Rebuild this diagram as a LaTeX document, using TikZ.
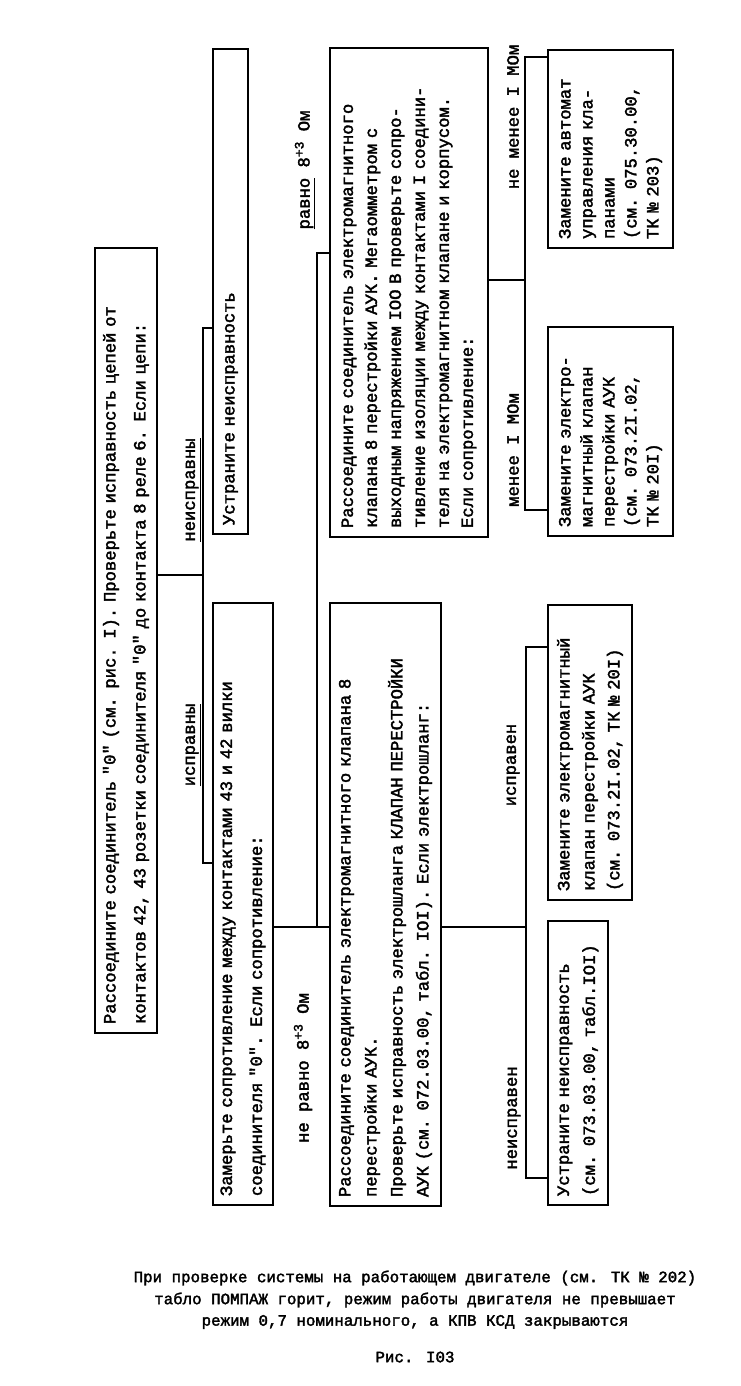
\documentclass[tikz,border=0pt]{standalone}
\usepackage{fontspec}
\newfontfamily\twfont{Liberation Mono}[FakeBold=2.2]
\newcommand\twsize[1]{\twfont\fontsize{17.2pt}{#1pt}\selectfont}
\newcommand\capsize{\twfont\fontsize{15.8pt}{20pt}\selectfont}
\newcommand\supthree{\raisebox{6pt}{\twfont\fontsize{13pt}{13pt}\selectfont +3}}
\begin{document}
\begin{tikzpicture}[x=1pt,y=1pt,
  box/.style={draw, line width=2.6pt, rotate=90, inner xsep=9pt, inner ysep=3pt, align=left, font=\twsize{#1}},
  lbl/.style={rotate=90, inner sep=1pt, font=\twsize{20}},
  captxt/.style={inner sep=0pt, font=\capsize},
  conn/.style={line width=1.4pt}]
\useasboundingbox (0,0) rectangle (740,-1386);

% boxes
\node[box=30, minimum width=785pt, minimum height=62pt, text width=767pt] (A) at (126,-640.5)
  {\mbox{Рассоедините соединитель "0" (см. рис. I). Проверьте исправность цепей от}\\
   \mbox{контактов 42, 43 розетки соединителя "0" до контакта 8 реле 6. Если цепи:}};
\node[box=24, minimum width=485pt, minimum height=35pt, text width=467pt] (B2) at (230.5,-291.5)
  {\mbox{Устраните неисправность}};
\node[box=30, minimum width=602pt, minimum height=60pt, text width=584pt] (B3) at (243,-904)
  {\mbox{Замерьте сопротивление между контактами 43 и 42 вилки}\\
   \mbox{соединителя "0". Если сопротивление:}};
\node[box=24, minimum width=489pt, minimum height=158pt, text width=471pt] (B4) at (409,-292.5)
  {\mbox{Рассоедините соединитель электромагнитного}\\
   \mbox{клапана 8 перестройки АУК. Мегаомметром с}\\
   \mbox{выходным напряжением IOO В проверьте сопро-}\\
   \mbox{тивление изоляции между контактами I соедини-}\\
   \mbox{теля на электромагнитном клапане и корпусом.}\\
   \mbox{Если сопротивление:}};
\node[box=26, minimum width=603pt, minimum height=111pt, text width=585pt] (B5) at (385.5,-904.5)
  {\mbox{Рассоедините соединитель электромагнитного клапана 8}\\
   \mbox{перестройки АУК.}\\
   \mbox{Проверьте исправность электрошланга КЛАПАН ПЕРЕСТРОЙКИ}\\
   \mbox{АУК (см. 072.03.00, табл. IOI). Если электрошланг:}};
\node[box=26, minimum width=284pt, minimum height=60pt, text width=266pt] (B6) at (578,-1063)
  {\mbox{Устраните неисправность}\\
   \mbox{(см. 073.03.00, табл.IOI)}};
\node[box=25, minimum width=295pt, minimum height=84pt, text width=277pt] (B7) at (590,-752.5)
  {\mbox{Замените электромагнитный}\\
   \mbox{клапан перестройки АУК}\\
   \mbox{(см. 073.2I.02, ТК № 20I)}};
\node[box=22, minimum width=209pt, minimum height=125pt, text width=191pt] (B8) at (610.5,-431.5)
  {\mbox{Замените электро-}\\
   \mbox{магнитный клапан}\\
   \mbox{перестройки АУК}\\
   \mbox{(см. 073.2I.02,}\\
   \mbox{ТК № 20I)}};
\node[box=22, minimum width=198pt, minimum height=125pt, text width=180pt] (B9) at (610.5,-149)
  {\mbox{Замените автомат}\\
   \mbox{управления кла-}\\
   \mbox{панами}\\
   \mbox{(см. 075.30.00,}\\
   \mbox{ТК № 203)}};

% junction coordinates
\coordinate (j1) at (203,-575);
\coordinate (t1) at (203,-328);
\coordinate (t2) at (203,-863);
\coordinate (j2) at (317,-927);
\coordinate (t3) at (317,-253);
\coordinate (j3) at (525,-280);
\coordinate (t5) at (525,-57);
\coordinate (t6) at (525,-510);
\coordinate (j4) at (526,-927);
\coordinate (t7) at (526,-647);
\coordinate (t8) at (526,-1178);

% connectors
\draw[conn] (A.south |- j1) -- (j1);
\draw[conn] (B2.north |- t1) -- (t1) -- (t2) -- (B3.north |- t2);
\draw[conn] (B3.south |- j2) -- (B5.north |- j2);
\draw[conn] (j2) -- (t3) -- (B4.north |- t3);
\draw[conn] (B4.south |- j3) -- (j3);
\draw[conn] (B9.north |- t5) -- (t5) -- (t6) -- (B8.north |- t6);
\draw[conn] (B5.south |- j4) -- (j4);
\draw[conn] (B7.north |- t7) -- (t7) -- (t8) -- (B6.north |- t8);

% labels
\node[lbl] (L1) at (193,-490) {\underline{неисправны}};
\node[lbl] (L2) at (193,-745) {\underline{исправны}};
\node[lbl] (L3) at (305,-170) {\underline{равно} 8\supthree{} Ом};
\node[lbl] (L4) at (303,-1068) {не равно 8\supthree{} Ом};
\node[lbl] (L5) at (513,-117) {не менее I МОм};
\node[lbl] (L6) at (513,-450) {менее I МОм};
\node[lbl] (L7) at (513,-765) {исправен};
\node[lbl] (L8) at (514,-1118) {неисправен};

% caption
\node[captxt] (c1) at (415,-1278) {При проверке системы на работающем двигателе (см. ТК № 202)};
\node[captxt] (c2) at (415,-1300) {табло ПОМПАЖ горит, режим работы двигателя не превышает};
\node[captxt] (c3) at (415,-1322) {режим 0,7 номинального, а КПВ КСД закрываются};
\node[captxt] (c4) at (415,-1357) {Рис. I03};
\end{tikzpicture}
\end{document}
